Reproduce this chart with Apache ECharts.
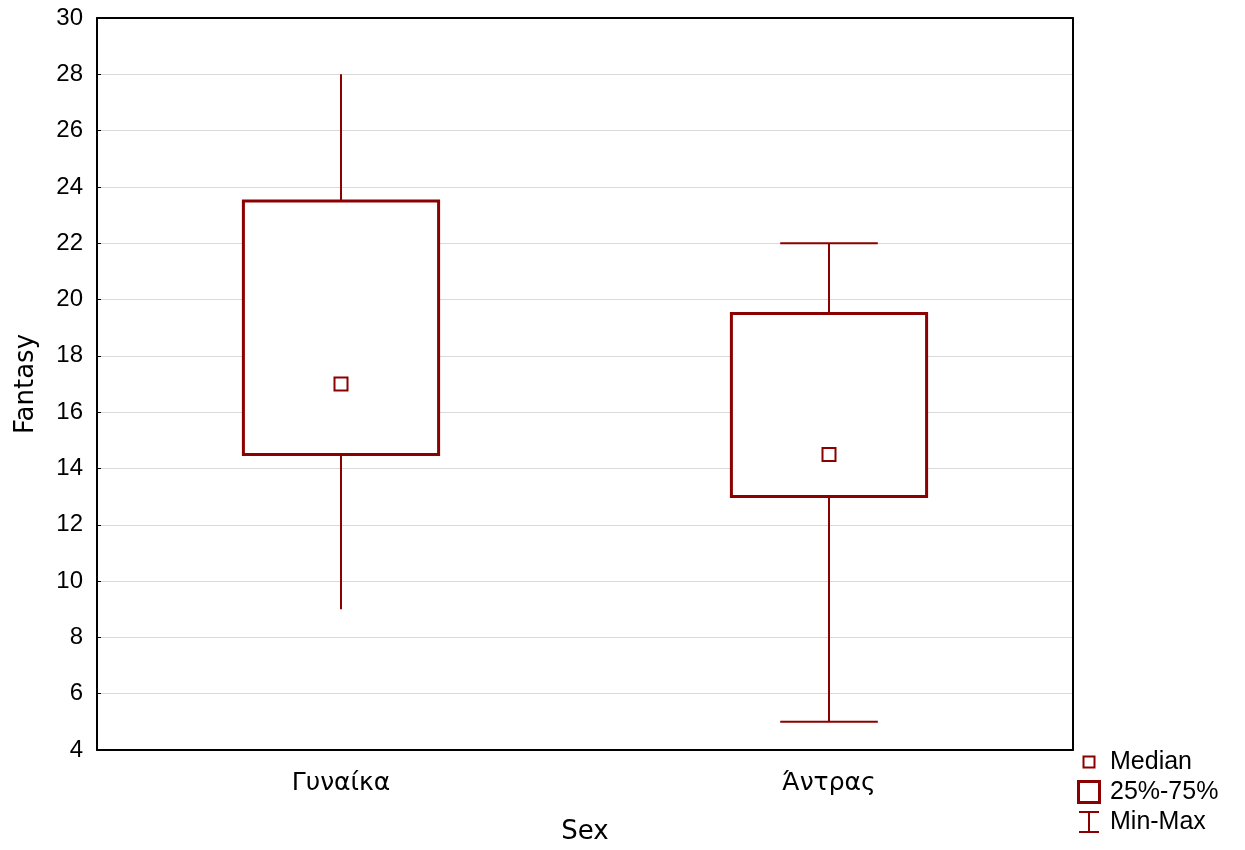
<!DOCTYPE html>
<html>
<head>
<meta charset="utf-8">
<script src="https://cdn.jsdelivr.net/npm/echarts@6/dist/echarts.min.js"></script>
<style>html,body{margin:0;padding:0;background:#fff}#c{width:1245px;height:850px}</style>
</head>
<body>
<div id="c"></div>
<script>
// ---- data ----
const categories = ['Γυναίκα', 'Άντρας'];
const minValues = [9, 5];
const q1Values = [14.5, 13];
const medianValues = [17, 14.5];
const q3Values = [23.5, 19.5];
const maxValues = [28, 22];
const whiskerCaps = [0, 1];
const yMin = 4, yMax = 30, yStep = 2;

const RED = '#8B0000';
const boxData = categories.map((c, i) => [i, q1Values[i], q3Values[i]]);
const whiskerData = categories.map((c, i) => [i, minValues[i], q1Values[i], q3Values[i], maxValues[i], whiskerCaps[i]]);
const medianData = categories.map((c, i) => [i, medianValues[i]]);

const chart = echarts.init(document.getElementById('c'));
const iconMedian = 'path://M0 0 M26 26 M6.5 6.5 H19.5 V19.5 H6.5 Z M8.5 8.5 V17.5 H17.5 V8.5 Z';
const iconBox = 'path://M0 0 M26 26 M1 1 H25 V25 H1 Z M4 4 V22 H22 V4 Z';
const iconRange = 'path://M0 0 M26 26 M3 2 H23 V4 H3 Z M12 4 H14 V22 H12 Z M3 22 H23 V24 H3 Z';

chart.setOption({
  animation: false,
  backgroundColor: '#fff',
  grid: { left: 97, top: 18, right: 172, bottom: 100, containLabel: false, outerBoundsMode: 'none' },
  legend: {
    orient: 'vertical', left: 1076, top: 749, padding: 0, itemWidth: 26, itemHeight: 26, itemGap: 4,
    textStyle: { fontFamily: 'Liberation Sans', fontSize: 25, color: '#000', padding: [0, 0, 0, 3] },
    data: [
      { name: 'Median', icon: iconMedian, itemStyle: { color: RED, borderWidth: 0 } },
      { name: '25%-75%', icon: iconBox, itemStyle: { color: RED, borderWidth: 0 } },
      { name: 'Min-Max', icon: iconRange, itemStyle: { color: RED, borderWidth: 0 } }
    ]
  },
  xAxis: [{
    type: 'category', data: categories, boundaryGap: true,
    name: 'Sex', nameLocation: 'middle', nameGap: 69,
    nameTextStyle: { fontFamily: 'DejaVu Sans', fontSize: 26, color: '#000' },
    axisLine: { lineStyle: { color: '#000', width: 2 } },
    axisTick: { inside: true, alignWithLabel: true, length: 5, lineStyle: { color: '#000', width: 2 } },
    axisLabel: { fontFamily: 'DejaVu Sans', fontSize: 25, color: '#000', margin: 21 },
    splitLine: { show: false }
  }, {
    type: 'category', data: categories, position: 'top', boundaryGap: true,
    axisLine: { lineStyle: { color: '#000', width: 2 } },
    axisTick: { inside: true, alignWithLabel: true, length: 5, lineStyle: { color: '#000', width: 2 } },
    axisLabel: { show: false }, splitLine: { show: false }
  }],
  yAxis: [{
    type: 'value', min: yMin, max: yMax, interval: yStep,
    name: 'Fantasy', nameLocation: 'middle', nameGap: 58,
    nameTextStyle: { fontFamily: 'DejaVu Sans', fontSize: 26, color: '#000' },
    axisLine: { show: true, lineStyle: { color: '#000', width: 2 } },
    axisTick: { show: true, inside: true, length: 4, lineStyle: { color: '#000', width: 1 } },
    axisLabel: { fontFamily: 'Liberation Sans', fontSize: 24, color: '#000', margin: 14 },
    splitLine: { show: true, lineStyle: { color: '#d9d9d9', width: 1 } }
  }, {
    type: 'value', min: yMin, max: yMax, interval: yStep, position: 'right',
    axisLine: { show: true, lineStyle: { color: '#000', width: 2 } },
    axisTick: { show: false }, axisLabel: { show: false }, splitLine: { show: false }
  }],
  series: [{
    name: 'Min-Max', type: 'custom', data: whiskerData, z: 2,
    itemStyle: { color: RED },
    renderItem: function (params, api) {
      const x = api.value(0);
      const pMin = api.coord([x, api.value(1)]);
      const pQ1 = api.coord([x, api.value(2)]);
      const pQ3 = api.coord([x, api.value(3)]);
      const pMax = api.coord([x, api.value(4)]);
      const cap = api.value(5);
      const hw = api.size([1, 0])[0] * 0.1;
      const st = { stroke: RED, lineWidth: 2 };
      const ch = [
        { type: 'line', shape: { x1: pQ3[0], y1: pQ3[1], x2: pMax[0], y2: pMax[1] }, style: st },
        { type: 'line', shape: { x1: pQ1[0], y1: pQ1[1], x2: pMin[0], y2: pMin[1] }, style: st }
      ];
      if (cap) {
        ch.push({ type: 'line', shape: { x1: pMax[0] - hw, y1: pMax[1], x2: pMax[0] + hw, y2: pMax[1] }, style: st });
        ch.push({ type: 'line', shape: { x1: pMin[0] - hw, y1: pMin[1], x2: pMin[0] + hw, y2: pMin[1] }, style: st });
      }
      return { type: 'group', children: ch };
    }
  }, {
    name: '25%-75%', type: 'custom', data: boxData, z: 3,
    itemStyle: { color: RED },
    renderItem: function (params, api) {
      const x = api.value(0);
      const lo = api.coord([x, api.value(1)]);
      const hi = api.coord([x, api.value(2)]);
      const w = api.size([1, 0])[0] * 0.4;
      return { type: 'rect', shape: { x: lo[0] - w / 2, y: hi[1], width: w, height: lo[1] - hi[1] },
        style: { fill: '#fff', stroke: RED, lineWidth: 3 } };
    }
  }, {
    name: 'Median', type: 'scatter', data: medianData, z: 4,
    symbol: 'rect', symbolSize: 13,
    itemStyle: { color: '#fff', borderColor: RED, borderWidth: 2, opacity: 1 }
  }]
});
</script>
</body>
</html>
